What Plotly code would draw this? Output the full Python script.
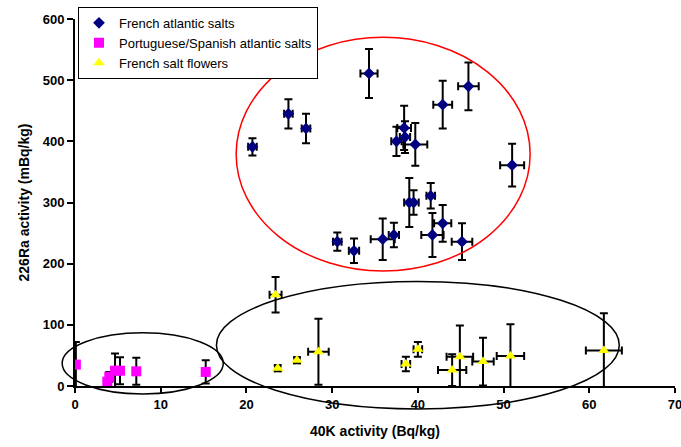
import plotly.graph_objects as go

# ---- data ----
fr_x = [20.7, 24.9, 26.95, 34.3, 42.9, 45.9, 51.0, 38.4, 37.5, 38.5, 39.7, 39.0, 39.5, 41.5, 42.9, 41.7, 45.15, 37.2, 35.9, 32.55, 30.6]
fr_y = [391, 445, 421, 511, 460, 490, 361, 422, 400, 407, 395, 300, 300, 311, 266, 247, 236, 247, 240, 221, 236]
fr_yerr = [14, 24, 24, 40, 39, 39, 35, 36, 24, 26, 35, 40, 20, 21, 30, 36, 30, 20, 34, 20, 15]
fr_xerr = [0.5, 0.5, 0.5, 1.0, 1.1, 1.2, 1.4, 0.8, 0.6, 0.6, 1.4, 0.6, 0.6, 0.5, 1.0, 1.3, 1.2, 0.6, 1.4, 0.6, 0.5]

ps_x = [0.1, 3.77, 4.0, 4.67, 5.25, 7.15, 15.25]
ps_y = [35, 7, 15, 25, 25, 24, 23]
ps_yerr = [37, 5, 8, 28, 22, 22, 19]
ps_xerr = [0.2, 0.2, 0.2, 0.3, 0.3, 0.3, 0.4]

fl_x = [23.4, 23.65, 25.9, 28.4, 38.6, 40.0, 44.0, 44.9, 47.6, 50.8, 61.7]
fl_y = [149, 29, 42, 56, 36, 60, 26, 48, 40, 49, 58]
fl_yerr = [29, 5, 5, 54, 12, 12, 26, 51, 39, 52, 61]
fl_xerr = [0.7, 0.3, 0.3, 1.2, 0.5, 0.5, 1.65, 1.55, 1.25, 1.6, 2.1]

x_ticks = [0, 10, 20, 30, 40, 50, 60, 70]
y_ticks = [0, 100, 200, 300, 400, 500, 600]
X_RANGE = [0, 70]
Y_RANGE = [0, 600]

FONT = "Liberation Sans, Arial, sans-serif"

def err(vals):
    return dict(type="data", array=vals, visible=True, color="black", thickness=2, width=4)

fig = go.Figure()
fig.add_trace(go.Scatter(
    x=fr_x, y=fr_y, mode="markers", name="French atlantic salts",
    marker=dict(symbol="diamond", size=9, color="#000080"),
    error_y=err(fr_yerr), error_x=err(fr_xerr)))
fig.add_trace(go.Scatter(
    x=ps_x, y=ps_y, mode="markers", name="Portuguese/Spanish atlantic salts",
    marker=dict(symbol="square", size=10, color="#FF00FF"),
    error_y=err(ps_yerr), error_x=err(ps_xerr)))
fig.add_trace(go.Scatter(
    x=fl_x, y=fl_y, mode="markers", name="French salt flowers",
    marker=dict(symbol="triangle-up", size=10, color="#FFFF00"),
    error_y=err(fl_yerr), error_x=err(fl_xerr)))

def px(v):
    return (v - X_RANGE[0]) / (X_RANGE[1] - X_RANGE[0])

def py(v):
    return (v - Y_RANGE[0]) / (Y_RANGE[1] - Y_RANGE[0])

def ellipse(x0, x1, y0, y1, color):
    fig.add_shape(type="circle", xref="paper", yref="paper",
                  x0=px(x0), x1=px(x1), y0=py(y0), y1=py(y1),
                  line=dict(color=color, width=1.5), layer="above")

ellipse(18.8, 53.1, 188, 570, "red")
ellipse(16.5, 63.5, -37.5, 171, "black")
ellipse(-1.5, 17.3, -13, 87, "black")

fig.update_layout(
    width=681, height=447,
    margin=dict(l=75, r=6, t=19, b=61, autoexpand=False),
    paper_bgcolor="white", plot_bgcolor="white",
    font=dict(family=FONT, color="black"),
    showlegend=True,
    legend=dict(x=0.005, y=1.033, xanchor="left", yanchor="top",
                bgcolor="white", bordercolor="black", borderwidth=1,
                font=dict(size=13, family=FONT), tracegroupgap=0),
    xaxis=dict(range=X_RANGE, tickvals=x_ticks, showgrid=False, zeroline=False,
               automargin=False, ticklabeloverflow="allow",
               showline=True, linecolor="black", linewidth=2,
               ticks="outside", ticklen=5, tickwidth=2, tickcolor="black",
               tickfont=dict(size=13, family=FONT, weight="bold"),
               title=dict(text="<b>40K activity (Bq/kg)</b>", font=dict(size=14), standoff=16)),
    yaxis=dict(range=Y_RANGE, tickvals=y_ticks, showgrid=False, zeroline=False,
               automargin=False, ticklabeloverflow="allow",
               showline=True, linecolor="black", linewidth=2,
               ticks="outside", ticklen=6, tickwidth=2, tickcolor="black",
               tickfont=dict(size=13, family=FONT, weight="bold"),
               title=dict(text="<b>226Ra activity (mBq/kg)</b>", font=dict(size=14), standoff=10)),
)

fig.write_html(
    "out.html",
    config={"displayModeBar": False},
    post_script="document.body.style.margin='0';document.body.style.overflow='hidden';",
)
